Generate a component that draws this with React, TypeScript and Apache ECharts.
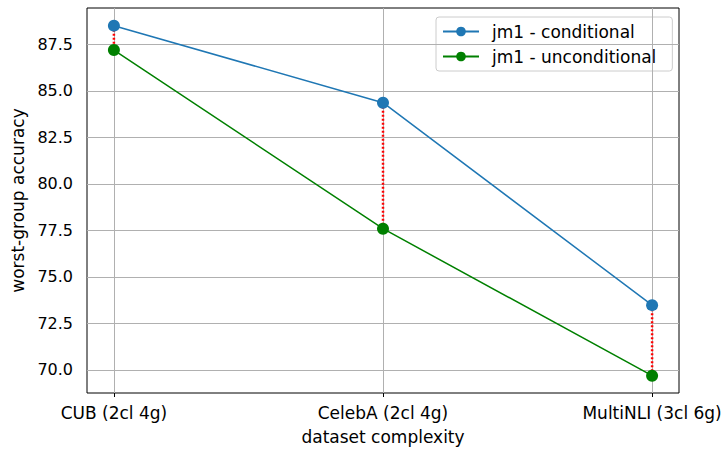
import React, { useEffect, useRef } from "react";
import * as echarts from "echarts";

const categories = ["CUB (2cl 4g)", "CelebA (2cl 4g)", "MultiNLI (3cl 6g)"];
const conditional = [88.5, 84.36, 73.48];
const unconditional = [87.19, 77.59, 69.69];
const yTicks = [70.0, 72.5, 75.0, 77.5, 80.0, 82.5, 85.0, 87.5];
const xTicks = [0, 1, 2];
const seriesNames = ["jm1 - conditional", "jm1 - unconditional"];

const FONT = "DejaVu Sans";
const FS = 17;

export default function App() {
  const ref = useRef<HTMLDivElement>(null);
  useEffect(() => {
    document.body.style.margin = "0";
    if (!ref.current) return;
    const chart = echarts.init(ref.current, undefined, { renderer: "svg" });
    const gridLineStyle = { color: "#b0b0b0", width: 1, type: "solid" as const };
    const connectors = categories.map((_, i) => ({
      type: "line",
      data: [
        [i, conditional[i]],
        [i, unconditional[i]],
      ],
      symbol: "none",
      color: "#ff0000",
      lineStyle: { color: "#ff0000", width: 2.5, type: [2, 2] },
      z: 5,
      silent: true,
    }));
    chart.setOption({
      animation: false,
      textStyle: { fontFamily: FONT },
      grid: {
        left: 87,
        top: 8,
        width: 592,
        height: 385,
        show: true,
        borderColor: "#000",
        borderWidth: 1,
        outerBoundsMode: "none",
        containLabel: false,
      },
      legend: {
        data: seriesNames,
        orient: "vertical",
        left: 436,
        top: 17,
        itemWidth: 36,
        itemHeight: 12,
        itemGap: 8,
        padding: [6, 16, 6, 6],
        backgroundColor: "rgba(255,255,255,0.8)",
        borderColor: "#cccccc",
        borderWidth: 1,
        borderRadius: 3,
        textStyle: { fontFamily: FONT, fontSize: FS, color: "#000", padding: [0, 0, 0, 8] },
      },
      xAxis: {
        type: "value",
        min: -0.1,
        max: 2.1,
        name: "dataset complexity",
        nameLocation: "middle",
        nameGap: 35,
        nameTextStyle: { fontFamily: FONT, fontSize: FS, color: "#000" },
        axisLine: { show: false },
        axisTick: { show: true, length: 4, customValues: xTicks, lineStyle: { color: "#000" } },
        axisLabel: {
          customValues: xTicks,
          formatter: (v: number) => categories[Math.round(v)] ?? "",
          fontFamily: FONT,
          fontSize: FS,
          color: "#000",
          margin: 11,
        },
        splitLine: { show: false },
      },
      yAxis: {
        type: "value",
        min: 68.76,
        max: 89.45,
        name: "worst-group accuracy",
        nameLocation: "middle",
        nameGap: 59,
        nameTextStyle: { fontFamily: FONT, fontSize: FS, color: "#000" },
        axisLine: { show: false },
        axisTick: { show: true, length: 4, customValues: yTicks, lineStyle: { color: "#000" } },
        axisLabel: {
          customValues: yTicks,
          formatter: (v: number) => v.toFixed(1),
          fontFamily: FONT,
          fontSize: 16,
          color: "#000",
          margin: 14,
        },
        splitLine: { show: false },
      },
      series: [
        {
          type: "line",
          name: "__grid",
          data: [],
          silent: true,
          z: 0,
          markLine: {
            silent: true,
            symbol: "none",
            label: { show: false },
            lineStyle: gridLineStyle,
            data: [
              ...xTicks.map((x) => ({ xAxis: x })),
              ...yTicks.map((y) => ({ yAxis: y })),
            ],
          },
        },
        ...connectors,
        {
          type: "line",
          name: seriesNames[0],
          data: conditional.map((v, i) => [i, v]),
          symbol: "circle",
          symbolSize: 12,
          color: "#1f77b4",
          lineStyle: { color: "#1f77b4", width: 1.5 },
          itemStyle: { color: "#1f77b4" },
          z: 6,
        },
        {
          type: "line",
          name: seriesNames[1],
          data: unconditional.map((v, i) => [i, v]),
          symbol: "circle",
          symbolSize: 12,
          color: "#008000",
          lineStyle: { color: "#008000", width: 1.5 },
          itemStyle: { color: "#008000" },
          z: 6,
        },
      ],
    });
    return () => chart.dispose();
  }, []);
  return <div ref={ref} style={{ width: 725, height: 450 }} />;
}
